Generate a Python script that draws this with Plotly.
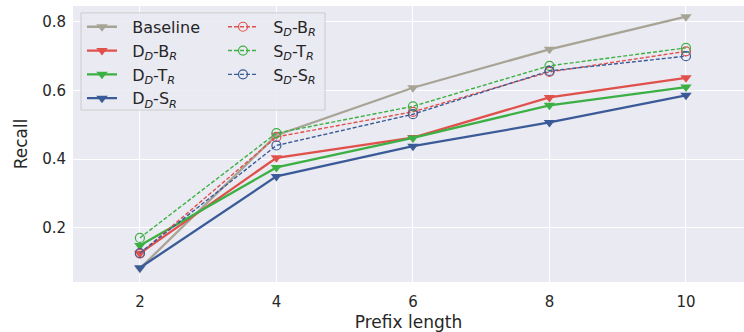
import plotly.graph_objects as go

prefix = [2, 4, 6, 8, 10]
baseline = [0.082, 0.47, 0.608, 0.72, 0.815]
dd_br = [0.126, 0.404, 0.463, 0.58, 0.637]
dd_tr = [0.149, 0.376, 0.462, 0.557, 0.61]
dd_sr = [0.084, 0.35, 0.438, 0.507, 0.586]
sd_br = [0.125, 0.465, 0.538, 0.654, 0.714]
sd_tr = [0.171, 0.476, 0.554, 0.672, 0.724]
sd_sr = [0.127, 0.44, 0.531, 0.657, 0.70]
yticks = [0.2, 0.4, 0.6, 0.8]

GREY = "#a8a495"
RED = "#e0514c"
GREEN = "#3cb044"
BLUE = "#3b5b98"
TXT = "#262626"
PAD = "\u00a0\u00a0"

fig = go.Figure()

solid = [
    ("Baseline", baseline, GREY),
    ("D<sub><i>D</i></sub>-B<sub><i>R</i></sub>", dd_br, RED),
    ("D<sub><i>D</i></sub>-T<sub><i>R</i></sub>", dd_tr, GREEN),
    ("D<sub><i>D</i></sub>-S<sub><i>R</i></sub>", dd_sr, BLUE),
]
for i, (name, ys, c) in enumerate(solid):
    fig.add_trace(go.Scatter(
        x=prefix, y=ys, name=PAD + name, mode="lines+markers",
        line=dict(color=c, width=2.3),
        marker=dict(symbol="triangle-down", size=10, color=c),
        legend="legend", legendrank=i + 1,
    ))

dashed = [
    ("S<sub><i>D</i></sub>-B<sub><i>R</i></sub>", sd_br, RED),
    ("S<sub><i>D</i></sub>-T<sub><i>R</i></sub>", sd_tr, GREEN),
    ("S<sub><i>D</i></sub>-S<sub><i>R</i></sub>", sd_sr, BLUE),
]
for i, (name, ys, c) in enumerate(dashed):
    fig.add_trace(go.Scatter(
        x=prefix, y=ys, name=PAD + name, mode="lines+markers",
        line=dict(color=c, width=1.4, dash="4px,2px"),
        marker=dict(symbol="circle-open", size=9, color=c, line=dict(width=1.2, color=c)),
        legend="legend2", legendrank=i + 1,
    ))

legfont = dict(family="DejaVu Sans", size=16, color=TXT)
fig.update_layout(
    width=744, height=332,
    margin=dict(l=73, r=0, t=6, b=50),
    paper_bgcolor="white",
    plot_bgcolor="#eaeaf2",
    font=dict(family="DejaVu Sans", size=15, color=TXT),
    legend=dict(x=0.0134, y=0.986, xanchor="left", yanchor="top",
                bgcolor="rgba(0,0,0,0)", font=legfont, tracegroupgap=0,
                itemwidth=30),
    legend2=dict(x=0.2235, y=0.986, xanchor="left", yanchor="top",
                 bgcolor="rgba(0,0,0,0)", font=legfont, tracegroupgap=0,
                 itemwidth=30),
    shapes=[dict(type="rect", xref="paper", yref="paper",
                 x0=0.0119, x1=0.3756, y0=0.623, y1=0.975,
                 fillcolor="rgba(234,234,242,0.85)",
                 line=dict(color="#cccccc", width=1), layer="above")],
    xaxis=dict(range=[1.02, 10.85], tickvals=prefix, showgrid=True,
               gridcolor="white", gridwidth=1.3, zeroline=False,
               showline=False, ticks="", tickfont=dict(size=15),
               ticklabelstandoff=9,
               title=dict(text="Prefix length", font=dict(size=17), standoff=6)),
    yaxis=dict(range=[0.0426, 0.846], tickvals=yticks, tickformat=".1f",
               showgrid=True, gridcolor="white", gridwidth=1.3,
               zeroline=False, showline=False, ticks="",
               tickfont=dict(size=15), ticklabelstandoff=6,
               title=dict(text="Recall", font=dict(size=17), standoff=10)),
)

fig.write_html("out.html", config={"displayModeBar": False},
               post_script="document.body.style.margin='0';")
